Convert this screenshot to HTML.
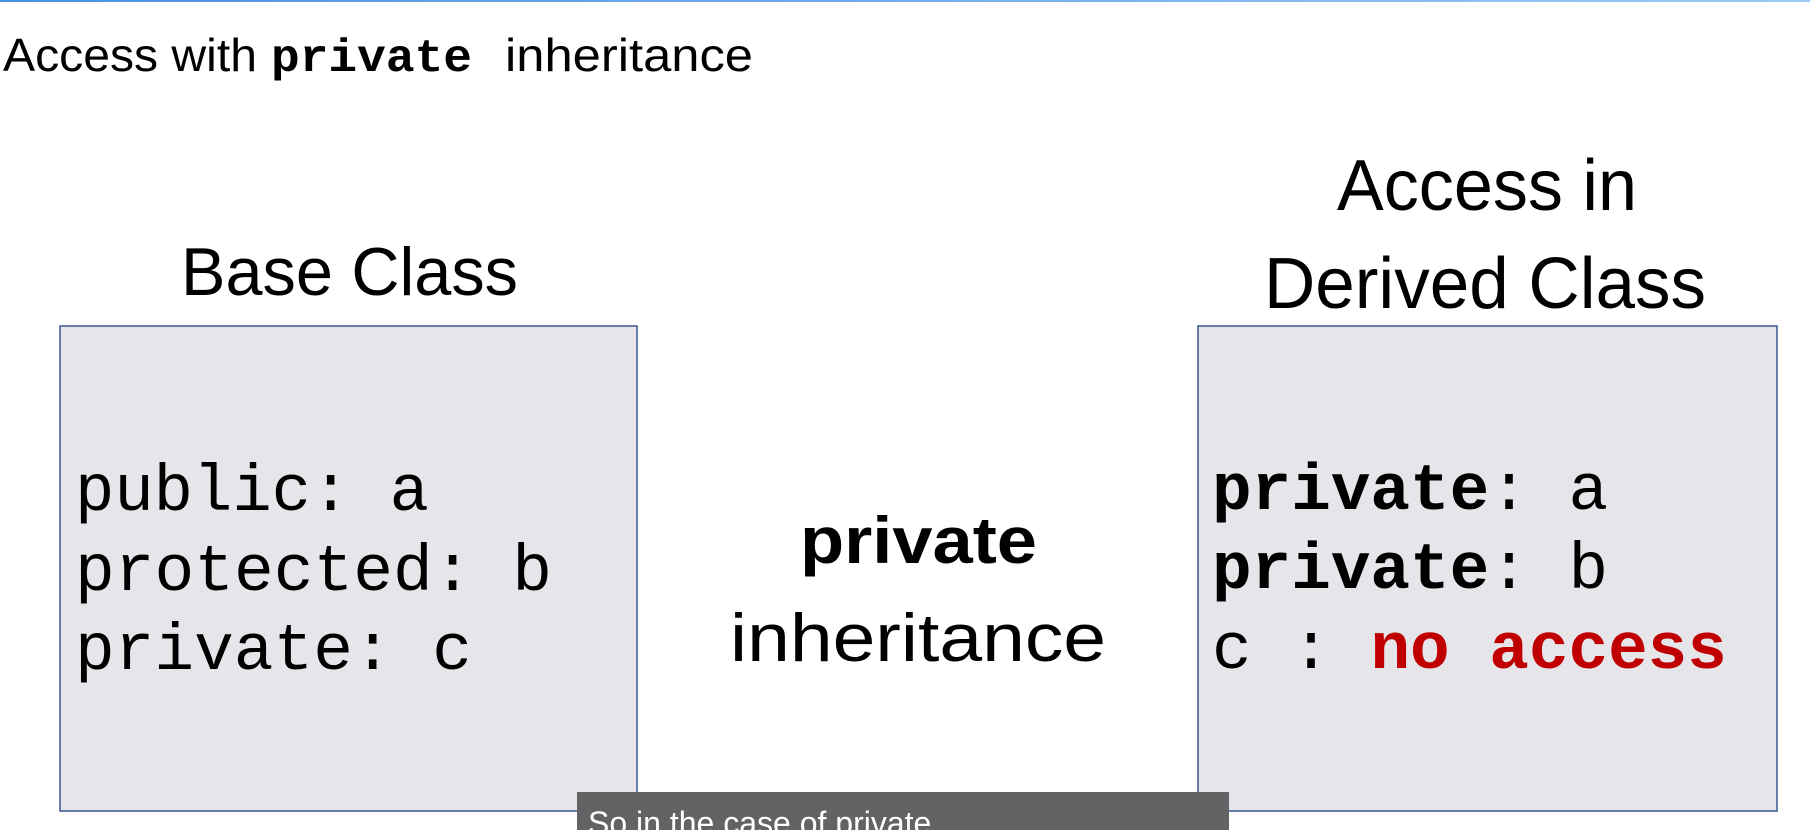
<!DOCTYPE html>
<html><head><meta charset="utf-8"><style>html,body{margin:0;padding:0;background:#fff;overflow:hidden}</style></head>
<body>
<svg width="1810" height="830" viewBox="0 0 1810 830" xmlns="http://www.w3.org/2000/svg">
<defs><linearGradient id="g" x1="0" x2="1"><stop offset="0" stop-color="#4a90e2"/><stop offset="1" stop-color="#9ccaf5"/></linearGradient></defs>
<rect x="0" y="0" width="1810" height="2" fill="url(#g)"/>
<g font-family="Liberation Sans, sans-serif" fill="#000">
<text x="3" y="71" font-size="46" textLength="254" lengthAdjust="spacingAndGlyphs">Access with</text>
<text x="271" y="71" font-size="46" font-family="Liberation Mono, monospace" font-weight="bold" textLength="201" lengthAdjust="spacingAndGlyphs">private</text>
<text x="505" y="71" font-size="46" textLength="248" lengthAdjust="spacingAndGlyphs">inheritance</text>
<text x="181" y="295" font-size="68" textLength="337" lengthAdjust="spacingAndGlyphs">Base Class</text>
<text x="1337" y="210" font-size="72" textLength="300" lengthAdjust="spacingAndGlyphs">Access in</text>
<text x="1264" y="308" font-size="72" textLength="442" lengthAdjust="spacingAndGlyphs">Derived Class</text>
<text x="800" y="563" font-size="66" font-weight="bold" textLength="237" lengthAdjust="spacingAndGlyphs">private</text>
<text x="730" y="661" font-size="68" textLength="376" lengthAdjust="spacingAndGlyphs">inheritance</text>
</g>
<rect x="60" y="326" width="577" height="485" fill="#e6e6ea" stroke="#3a5590" stroke-width="1.5"/>
<rect x="1198" y="326" width="579" height="485" fill="#e6e6ea" stroke="#3a5590" stroke-width="1.5"/>
<g font-family="Liberation Mono, monospace" font-size="66" fill="#000">
<text x="75" y="510" textLength="354" lengthAdjust="spacingAndGlyphs">public: a</text>
<text x="75" y="590" textLength="477" lengthAdjust="spacingAndGlyphs">protected: b</text>
<text x="75" y="669" textLength="397" lengthAdjust="spacingAndGlyphs">private: c</text>
<text x="1212" y="509"><tspan font-weight="bold">private</tspan>: a</text>
<text x="1212" y="588"><tspan font-weight="bold">private</tspan>: b</text>
<text x="1212" y="668">c : <tspan font-weight="bold" fill="#c00000">no access</tspan></text>
</g>
<rect x="577" y="792" width="652" height="38" fill="#636365"/>
<text x="588" y="834" font-family="Liberation Sans, sans-serif" font-size="32" fill="#fff">So in the case of private</text>
</svg>
</body></html>
